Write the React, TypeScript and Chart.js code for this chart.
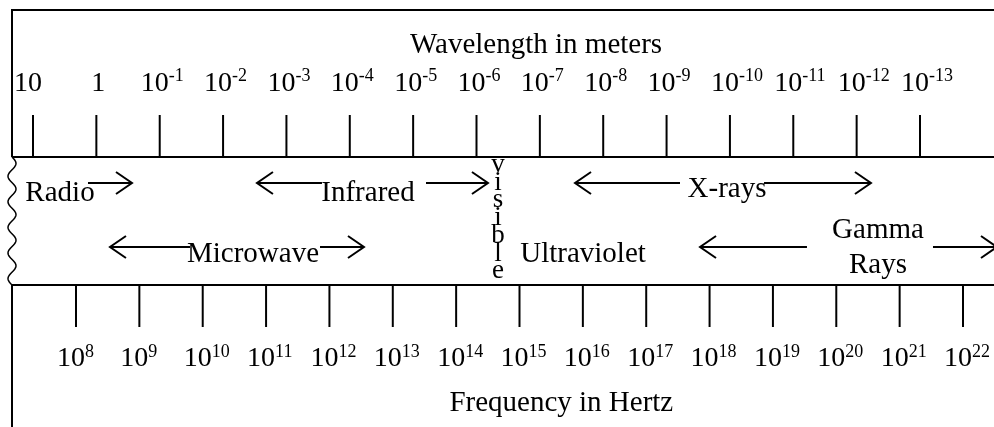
import React, { useEffect, useRef } from "react";
import { Chart, registerables } from "chart.js";

Chart.register(...registerables);

// ---- Data ----
// Wavelength axis (meters): exponent of 10
const wavelengthExponents = [1, 0, -1, -2, -3, -4, -5, -6, -7, -8, -9, -10, -11, -12, -13];
const wavelengthTickLabels = ["10", "1", "10^-1", "10^-2", "10^-3", "10^-4", "10^-5", "10^-6", "10^-7", "10^-8", "10^-9", "10^-10", "10^-11", "10^-12", "10^-13"];

// Frequency axis (Hertz): exponent of 10
const frequencyExponents = [8, 9, 10, 11, 12, 13, 14, 15, 16, 17, 18, 19, 20, 21, 22];
const frequencyTickLabels = ["10^8", "10^9", "10^10", "10^11", "10^12", "10^13", "10^14", "10^15", "10^16", "10^17", "10^18", "10^19", "10^20", "10^21", "10^22"];

// Bands: label centre given as wavelength exponent; row 0 = upper, 1 = lower, 2 = vertical
const bandNames = ["Radio", "Microwave", "Infrared", "visible", "Ultraviolet", "X-rays", "Gamma\nRays"];
const bandLabelCenter = [0.574, -2.472, -4.287, -6.339, -7.681, -9.954, -12.337];
const bandRow = [0, 1, 0, 2, 1, 0, 1];

// Arrow segments (wavelength exponent): tail -> head
const arrowTail = [0.132, -1.478, -3.53, -3.561, -5.203, -9.212, -10.538, -11.216, -13.205];
const arrowHead = [-0.5625, -0.215, -4.224, -2.535, -6.181, -7.555, -12.226, -9.528, -14.215];
const arrowRow = [0, 1, 1, 0, 0, 0, 0, 1, 1];

const axisTitles = ["Wavelength in meters", "Frequency in Hertz"];

const SERIF = "'Liberation Serif', 'Times New Roman', serif";

function drawPowerLabel(ctx: CanvasRenderingContext2D, label: string, tickX: number, baseline: number, raise: number) {
  const [base, sup] = label.split("^");
  ctx.textAlign = "left";
  ctx.textBaseline = "alphabetic";
  ctx.font = `28px ${SERIF}`;
  const bw = ctx.measureText(base).width;
  const right = tickX + 9;
  ctx.fillText(base, right - bw, baseline);
  if (sup) {
    ctx.font = `18px ${SERIF}`;
    ctx.fillText(sup, right, baseline - raise);
  }
}

function drawArrowHead(ctx: CanvasRenderingContext2D, tipX: number, y: number, dir: number) {
  ctx.beginPath();
  ctx.moveTo(tipX - dir * 16, y - 11);
  ctx.lineTo(tipX, y);
  ctx.lineTo(tipX - dir * 16, y + 11);
  ctx.stroke();
}

const diagramPlugin = {
  id: "diagram",
  beforeDraw(chart: any) {
    const ctx = chart.ctx;
    ctx.save();
    ctx.fillStyle = "#fff";
    ctx.fillRect(0, 0, chart.width, chart.height);
    ctx.restore();
  },
  afterDatasetsDraw(chart: any) {
    const ctx: CanvasRenderingContext2D = chart.ctx;
    const xw = chart.scales.xw;
    const xf = chart.scales.xf;
    const ys = chart.scales.y;
    const W = chart.width;
    const H = chart.height;
    const bandTop = 157;
    const bandBottom = 285;
    const frameX = 12;
    ctx.save();
    ctx.strokeStyle = "#000";
    ctx.fillStyle = "#000";
    ctx.lineWidth = 2;
    ctx.lineCap = "butt";

    // frame
    ctx.beginPath();
    ctx.moveTo(frameX, 10);
    ctx.lineTo(W, 10);
    ctx.moveTo(frameX, 9);
    ctx.lineTo(frameX, bandTop);
    ctx.moveTo(frameX, bandBottom);
    ctx.lineTo(frameX, H);
    ctx.moveTo(frameX, bandTop);
    ctx.lineTo(W, bandTop);
    ctx.moveTo(frameX, bandBottom);
    ctx.lineTo(W, bandBottom);
    ctx.stroke();

    // wavy left edge of band
    ctx.lineWidth = 1.5;
    ctx.beginPath();
    for (let t = 0; t <= bandBottom - bandTop; t++) {
      const x = frameX + 4 * Math.sin((2 * Math.PI * t) / 25.6);
      const y = bandTop + t;
      if (t === 0) ctx.moveTo(x, y);
      else ctx.lineTo(x, y);
    }
    ctx.stroke();
    ctx.lineWidth = 2;

    // wavelength ticks + labels
    wavelengthExponents.forEach((e, i) => {
      const px = xw.getPixelForValue(e);
      ctx.beginPath();
      ctx.moveTo(px, 115);
      ctx.lineTo(px, bandTop);
      ctx.stroke();
      drawPowerLabel(ctx, wavelengthTickLabels[i], px, 91, 10);
    });

    // frequency ticks + labels
    frequencyExponents.forEach((e, i) => {
      const px = xf.getPixelForValue(e);
      ctx.beginPath();
      ctx.moveTo(px, bandBottom);
      ctx.lineTo(px, 327);
      ctx.stroke();
      drawPowerLabel(ctx, frequencyTickLabels[i], px, 366, 9);
    });

    // axis titles
    ctx.font = `29px ${SERIF}`;
    ctx.textAlign = "center";
    ctx.textBaseline = "alphabetic";
    ctx.fillText(axisTitles[0], xw.getPixelForValue(-6.94), 53);
    ctx.fillText(axisTitles[1], xf.getPixelForValue(15.66), 411);

    // arrow heads
    arrowHead.forEach((h, i) => {
      const hx = xw.getPixelForValue(h);
      const tx = xw.getPixelForValue(arrowTail[i]);
      const y = ys.getPixelForValue(arrowRow[i]);
      drawArrowHead(ctx, hx, y, hx > tx ? 1 : -1);
    });

    // band labels
    bandNames.forEach((name, i) => {
      const cx = xw.getPixelForValue(bandLabelCenter[i]);
      const row = bandRow[i];
      ctx.textAlign = "center";
      if (row === 2) {
        ctx.font = `27px ${SERIF}`;
        const chars = name.split("");
        chars.forEach((c, k) => {
          ctx.fillText(c, cx, 172 + k * 17.7);
        });
        return;
      }
      ctx.font = `29px ${SERIF}`;
      const y = ys.getPixelForValue(row);
      const lines = name.split("\n");
      if (lines.length === 1) {
        const off = row === 0 ? (name === "X-rays" ? 14 : 18) : 15;
        ctx.fillText(name, cx, y + off);
      } else {
        lines.forEach((ln, k) => {
          ctx.fillText(ln, cx, y - 9 + k * 35);
        });
      }
    });

    ctx.restore();
  },
};

export default function App() {
  const canvasRef = useRef<HTMLCanvasElement | null>(null);

  useEffect(() => {
    if (!canvasRef.current) return;
    const W = 994;
    // wavelength scale: exponent 1 at px 33, exponent -13 at px 920 (reversed)
    const unit = (920 - 33) / 14;
    const wMax = 1 + 33 / unit;
    const wMin = -13 - (W - 920) / unit;
    // frequency scale: 10^8 at px 76, 10^22 at px 963
    const fUnit = (963 - 76) / 14;
    const fMin = 8 - 76 / fUnit;
    const fMax = 22 + (W - 963) / fUnit;
    // row scale: row 0 at px 183, row 1 at px 247
    const rUnit = 247 - 183;
    const yMin = -183 / rUnit;
    const yMax = (427 - 183) / rUnit;

    const datasets = arrowTail.map((t, i) => ({
      type: "line" as const,
      data: [
        { x: t, y: arrowRow[i] },
        { x: arrowHead[i], y: arrowRow[i] },
      ],
      xAxisID: "xw",
      yAxisID: "y",
      borderColor: "#000",
      borderWidth: 2,
      pointRadius: 0,
      showLine: true,
      fill: false,
    }));

    const chart = new Chart(canvasRef.current, {
      type: "scatter",
      data: { datasets },
      options: {
        responsive: false,
        animation: false,
        devicePixelRatio: 1,
        layout: { padding: 0 },
        plugins: {
          legend: { display: false },
          tooltip: { enabled: false },
          title: { display: false },
        },
        scales: {
          xw: { type: "linear", position: "top", reverse: true, min: wMin, max: wMax, display: false },
          xf: { type: "linear", position: "bottom", min: fMin, max: fMax, display: false },
          y: { type: "linear", reverse: true, min: yMin, max: yMax, display: false },
        },
      },
      plugins: [diagramPlugin],
    } as any);
    return () => chart.destroy();
  }, []);

  return (
    <div style={{ position: "absolute", left: 0, top: 0, width: 994, height: 427, background: "#fff" }}>
      <canvas ref={canvasRef} width={994} height={427} style={{ display: "block" }} />
    </div>
  );
}
